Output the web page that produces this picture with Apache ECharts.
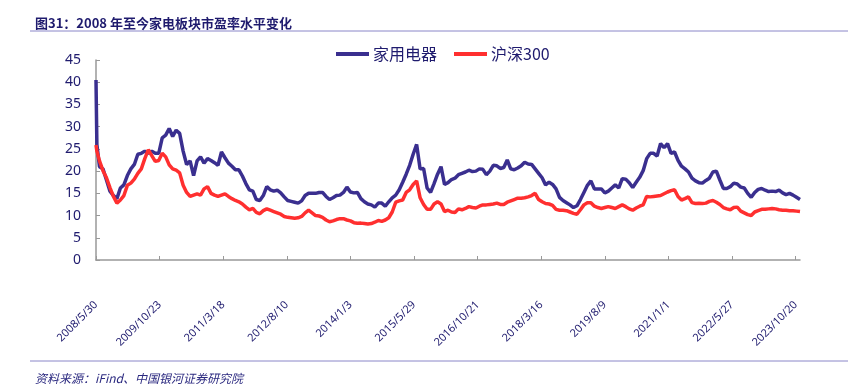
<!DOCTYPE html>
<html><head><meta charset="utf-8">
<script src="https://cdn.jsdelivr.net/npm/echarts@6/dist/echarts.min.js"></script>
<style>html,body{margin:0;padding:0;background:#fff}#c{width:853px;height:391px}</style>
</head><body><div id="c"></div>
<script>
// sample weeks (weeks since 2008/5/30)
const sampleWeeks = [0, 1];
for (let w = 4; w <= 808; w += 4) sampleWeeks.push(w);

const homeAppliance = [40.5, 26,
21,20.5,18,15.5,14.5,13.8,16.2,16.9,19,20.5,21.5,23.8,24,24.5,24,24.5,24,24,27.5,28.1,29.6,27.8,29.2,28.5,24.5,21.5,22.3,19,22.3,23.2,21.8,22.8,22.4,21.9,21.3,24.3,23,21.8,21.1,20.3,20.3,18.9,17.2,15.8,15.5,13.6,13.4,14.5,16.5,15.8,15.5,15.7,15.1,14.2,13.4,13.2,13,12.8,13.3,14.5,15,15,15,15.2,15.2,14.3,13.6,14,14.5,14.6,15.2,16.4,15.3,15.1,15.2,13.8,13.1,12.6,12.4,11.9,12.8,12.8,12.1,13.1,14,14.6,15.8,17.5,19.3,21.3,23.8,26,20.5,20.6,16.2,15.2,17.2,19.3,21,17,17.4,18.1,18.4,19.2,19.5,19.8,20.2,19.9,20,20.5,20.4,19.2,20,21.3,21.2,20.6,20.8,22.5,20.5,20.3,20.7,21.2,22,21.6,21.5,20.5,19.5,18.5,16.9,17.5,17,16,14.1,13.4,12.9,12.4,11.8,12.2,13.6,15.2,16.8,17.8,16,16,16,15.1,15.5,16.2,16.9,16.2,18.3,18.2,17.4,16.3,17.5,18.6,20.1,22.8,24,24,23.4,26.2,25.3,26.2,24,24.3,22.4,21.1,20.5,19.8,18.4,17.8,17.4,17.3,17.9,18.4,19.8,20,18,16.1,16.1,16.5,17.3,17.1,16.4,16.2,15,14.1,15.2,15.9,16.1,15.7,15.4,15.5,15.4,15.7,15.1,14.7,15,14.6,14.1,13.6];

const hs300 = [25.9, 24.5,
22.3,20.1,18.5,16.3,14.3,12.8,13.5,14.5,16.8,17.3,18.2,19.5,20.5,22.8,24.8,23.5,22.2,22.4,24,23.2,21.4,20.5,20.2,19.6,16.8,15.2,14.3,14.6,14.9,14.6,16,16.5,15,14.6,14.3,14.6,14.9,14.3,13.8,13.4,13.1,12.6,11.9,11.3,11.6,10.7,10.4,11.1,11.5,11.2,10.9,10.6,10.3,9.8,9.6,9.5,9.4,9.5,9.8,10.6,11.2,10.6,10,9.9,9.6,9,8.6,8.8,9.1,9.3,9.3,9,8.8,8.4,8.25,8.3,8.2,8.1,8.2,8.5,8.9,8.7,9,9.5,10.8,13,13.3,13.5,15.2,15.8,17,17.8,14,12.5,11.4,11.4,12.6,13.1,12.6,10.9,11.2,10.8,10.7,11.5,11.3,11.6,12,11.8,11.7,12.1,12.4,12.4,12.5,12.6,12.8,12.5,12.5,13,13.3,13.6,13.9,13.9,14,14.2,14.5,15,13.6,13.1,12.7,12.6,12.3,11.4,11.2,11.2,11.1,10.8,10.5,10.3,11.3,12.4,12.9,12.9,12.1,11.8,11.6,11.8,12,11.8,11.6,12,12.4,12,11.5,11.2,11.7,12.1,12.4,14.3,14.2,14.3,14.4,14.5,14.9,15.3,15.6,15.8,14.3,13.5,13.8,14.2,12.9,12.7,12.75,12.7,12.8,13.2,13.4,13,12.5,11.8,11.5,11.3,11.8,11.9,11,10.6,10.2,10,10.8,11.1,11.4,11.4,11.5,11.6,11.5,11.3,11.2,11.2,11.1,11.1,11,10.9];

const seriesNames = ['家用电器', '沪深300'];
const yTicks = {min: 0, max: 45, interval: 5};
const startDate = [2008, 5, 30];
const totalWeeks = 809;

// weekly category dates
const categories = [];
for (let i = 0; i < totalWeeks; i++) {
  const d = new Date(Date.UTC(startDate[0], startDate[1] - 1, startDate[2] + 7 * i));
  categories.push(d.getUTCFullYear() + '/' + (d.getUTCMonth() + 1) + '/' + d.getUTCDate());
}

const navy = '#1f1b6e';
const chart = echarts.init(document.getElementById('c'));
chart.setOption({
  animation: false,
  title: [
    {text: '图31：2008 年至今家电板块市盈率水平变化', left: 30, top: 12,
     textStyle: {fontFamily: '"Noto Sans CJK SC"', fontSize: 13, fontWeight: 'bold', color: navy}},
    {text: '资料来源：iFind、中国银河证券研究院', left: 30, top: 367,
     textStyle: {fontFamily: '"Noto Sans CJK SC"', fontSize: 12, fontWeight: 'normal', fontStyle: 'italic', color: '#2c2a80'}}
  ],
  graphic: [
    {type: 'line', shape: {x1: 30, y1: 31, x2: 848, y2: 31}, style: {stroke: '#8a86c8', lineWidth: 1}},
    {type: 'line', shape: {x1: 30, y1: 361, x2: 848, y2: 361}, style: {stroke: '#8a86c8', lineWidth: 1}}
  ],
  legend: {
    data: seriesNames, left: 331, top: 41, itemWidth: 33, itemHeight: 4, itemGap: 17,
    icon: 'rect',
    textStyle: {fontFamily: '"Noto Sans CJK SC"', fontSize: 16, color: navy, padding: [0, 0, 0, -1]}
  },
  grid: {left: 96, right: 53, top: 60, bottom: 131, containLabel: false},
  xAxis: {
    type: 'category', data: categories, boundaryGap: false,
    axisLine: {lineStyle: {color: '#999', width: 1.5}},
    axisTick: {inside: true, length: 4, interval: 72, lineStyle: {color: '#999'}},
    axisLabel: {interval: 72, rotate: 45, margin: 43, fontSize: 11, color: navy, fontFamily: '"Noto Sans"'},
    splitLine: {show: false}
  },
  yAxis: {
    type: 'value', min: yTicks.min, max: yTicks.max, interval: yTicks.interval,
    axisLine: {show: true, lineStyle: {color: '#999', width: 1.5}},
    axisTick: {show: true, inside: true, length: 4, lineStyle: {color: '#999'}},
    axisLabel: {fontSize: 14, color: navy, margin: 15, fontFamily: '"Noto Sans"'},
    splitLine: {show: false}
  },
  series: [
    {name: seriesNames[0], type: 'line', symbol: 'none', lineStyle: {width: 3.5, color: '#3a2f8f'}, itemStyle: {color: '#3a2f8f'},
     data: sampleWeeks.map((w, i) => [w, homeAppliance[i]])},
    {name: seriesNames[1], type: 'line', symbol: 'none', lineStyle: {width: 3.5, color: '#ff2f2f'}, itemStyle: {color: '#ff2f2f'},
     data: sampleWeeks.map((w, i) => [w, hs300[i]])}
  ]
});
</script></body></html>
